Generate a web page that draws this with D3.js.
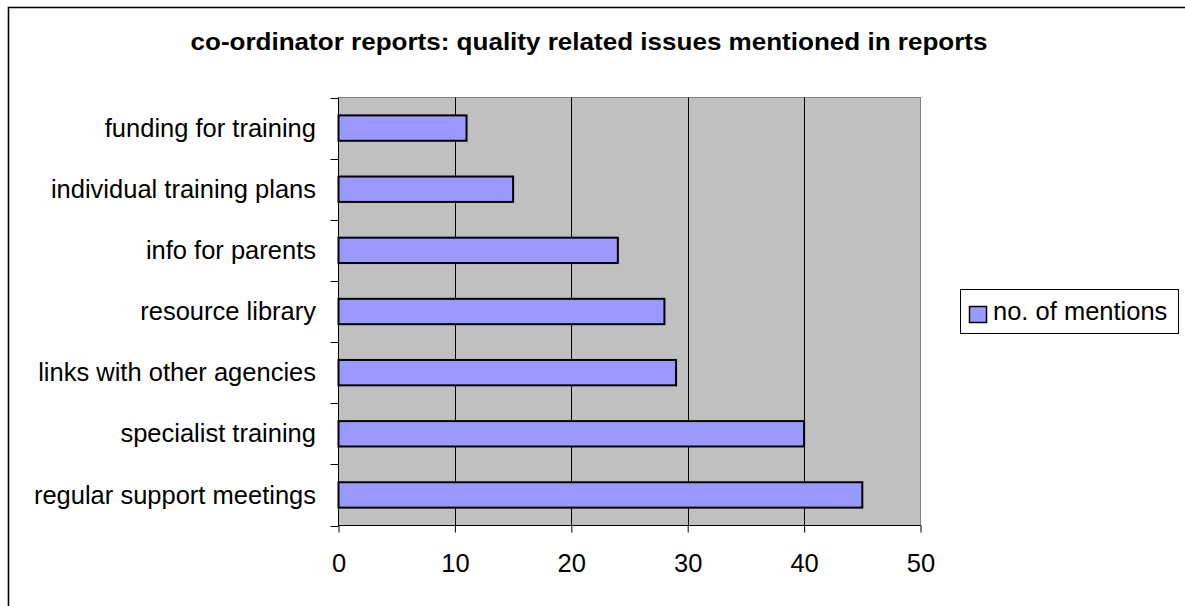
<!DOCTYPE html>
<html>
<head>
<meta charset="utf-8">
<script src="https://cdn.jsdelivr.net/npm/d3@7"></script>
<style>
  html, body { margin: 0; padding: 0; background: #fff; }
  svg { display: block; font-family: "Liberation Sans", Arial, sans-serif; }
</style>
</head>
<body>
<svg id="chart" width="1185" height="606"></svg>
<script>
const categories = [
  "funding for training",
  "individual training plans",
  "info for parents",
  "resource library",
  "links with other agencies",
  "specialist training",
  "regular support meetings"
];
const values = [11, 15, 24, 28, 29, 40, 45];
const xTicks = [0, 10, 20, 30, 40, 50];
const seriesName = "no. of mentions";
const titleText = "co-ordinator reports: quality related issues mentioned in reports";

const FONT = '"Liberation Sans", Arial, sans-serif';
const FS = 25.5;
const svg = d3.select("#chart");

// outer frame
svg.append("path")
  .attr("d", "M8.5,606 L8.5,7.5 L1185,7.5")
  .attr("fill", "none").attr("stroke", "#000").attr("stroke-width", 1.6);

const plot = { left: 338.5, right: 920.5, top: 97.5, bottom: 525.5 };

const x = d3.scaleLinear().domain([0, 50]).range([plot.left, plot.right]);
const yBands = d3.scaleBand().domain(categories).range([plot.top, plot.bottom]);
const barH = yBands.bandwidth() * 0.415;
const yc = d => yBands(d) + yBands.bandwidth() / 2;

// plot background
svg.append("rect")
  .attr("x", plot.left).attr("y", plot.top)
  .attr("width", plot.right - plot.left).attr("height", plot.bottom - plot.top)
  .attr("fill", "#c0c0c0").attr("stroke", "#808080").attr("stroke-width", 1);

// gridlines
svg.append("g").selectAll("line").data(xTicks.filter(d => d > 0 && d < 50)).join("line")
  .attr("x1", d => Math.round(x(d)) + 0.5).attr("x2", d => Math.round(x(d)) + 0.5)
  .attr("y1", plot.top).attr("y2", plot.bottom)
  .attr("stroke", "#000").attr("stroke-width", 1);

// bars
svg.append("g").selectAll("rect").data(values).join("rect")
  .attr("x", plot.left)
  .attr("y", (d, i) => yc(categories[i]) - barH / 2)
  .attr("width", d => x(d) - x(0))
  .attr("height", barH)
  .attr("fill", "#9999ff").attr("stroke", "#000").attr("stroke-width", 2);

// x axis
const xAxis = d3.axisBottom(x).tickValues(xTicks).tickSize(7).tickFormat(d3.format("d"));
const gx = svg.append("g").attr("transform", `translate(0,${plot.bottom})`).call(xAxis);
gx.select(".domain").attr("stroke", "#000").attr("d", `M${plot.left},0H${plot.right}`);
gx.selectAll(".tick line").attr("stroke", "#000");
gx.selectAll("text").attr("font-size", FS).attr("fill", "#000")
  .attr("font-family", FONT).attr("dy", null).attr("y", 46.5);

// y axis (category ticks at band boundaries)
const bounds = categories.map(c => yBands(c)).concat([plot.bottom]);
svg.append("line").attr("x1", plot.left).attr("x2", plot.left)
  .attr("y1", plot.top).attr("y2", plot.bottom).attr("stroke", "#000");
svg.append("g").selectAll("line").data(bounds).join("line")
  .attr("x1", plot.left - 8).attr("x2", plot.left)
  .attr("y1", d => Math.round(d) + 0.5).attr("y2", d => Math.round(d) + 0.5)
  .attr("stroke", "#000");
svg.append("g").selectAll("text").data(categories).join("text")
  .attr("x", 316)
  .attr("y", d => yc(d) + 8.7)
  .attr("text-anchor", "end")
  .attr("font-size", FS).attr("fill", "#000")
  .text(d => d);

// title
svg.append("text")
  .attr("x", 589).attr("y", 50)
  .attr("text-anchor", "middle")
  .attr("font-size", 24).attr("font-weight", "bold").attr("fill", "#000")
  .attr("textLength", 797).attr("lengthAdjust", "spacingAndGlyphs")
  .text(titleText);

// legend
const lg = svg.append("g");
lg.append("rect").attr("x", 960.5).attr("y", 289.5).attr("width", 218).attr("height", 44)
  .attr("fill", "#fff").attr("stroke", "#000").attr("stroke-width", 1);
lg.append("rect").attr("x", 969.5).attr("y", 306.5).attr("width", 17).attr("height", 16)
  .attr("fill", "#9999ff").attr("stroke", "#000").attr("stroke-width", 1.5);
lg.append("text").attr("x", 993).attr("y", 319.5)
  .attr("font-size", FS).attr("fill", "#000").text(seriesName);
</script>
</body>
</html>
